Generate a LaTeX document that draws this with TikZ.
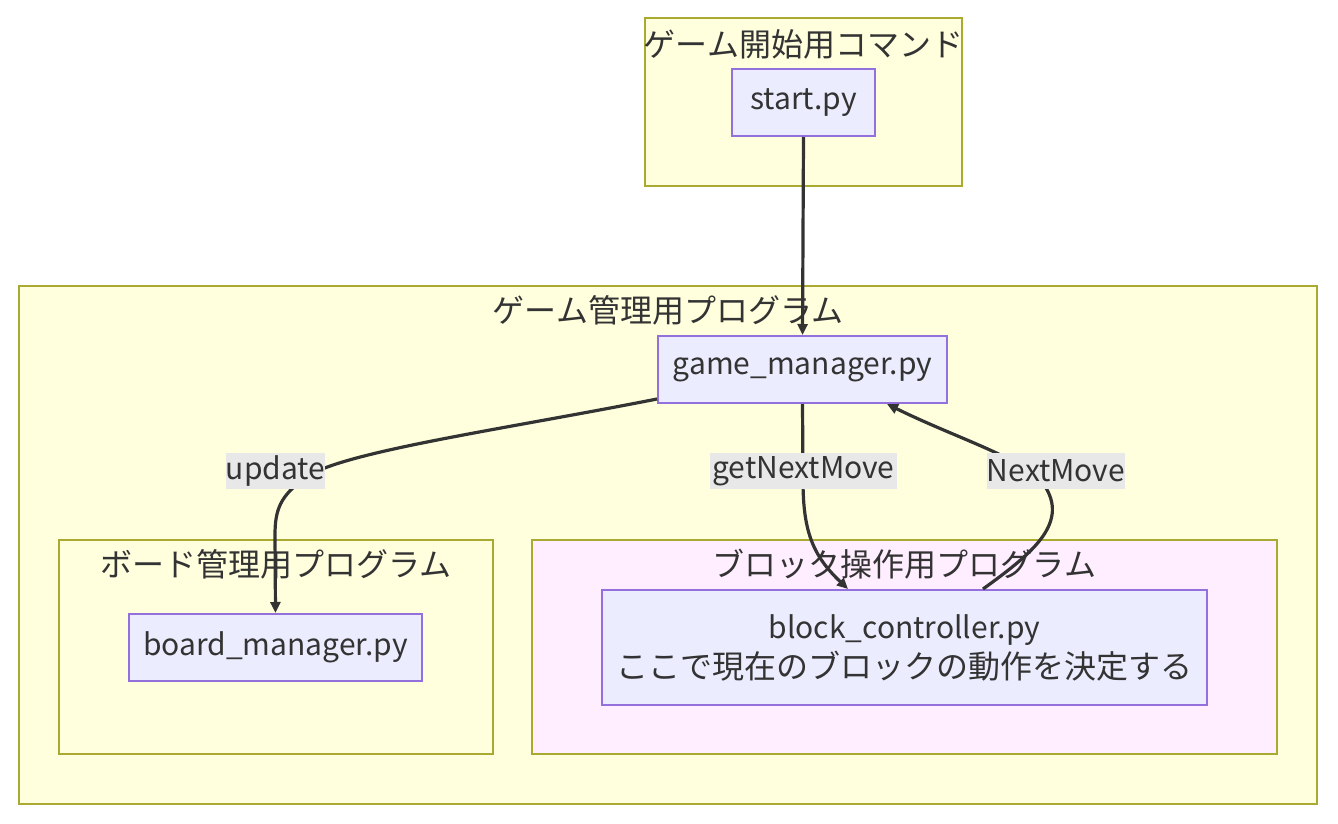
\documentclass[tikz,border=0pt]{standalone}
\usepackage{fontspec}
\setmainfont{Noto Sans CJK JP}
\usetikzlibrary{arrows.meta}
\definecolor{clfill}{HTML}{FFFFDE}
\definecolor{clline}{HTML}{AAAA33}
\definecolor{pinkfill}{HTML}{FFEEFF}
\definecolor{ndfill}{HTML}{ECECFF}
\definecolor{ndline}{HTML}{9370DB}
\definecolor{txt}{HTML}{333333}
\definecolor{lblfill}{HTML}{E8E8E8}
\newcommand{\jpsize}{\fontsize{32}{40}\selectfont}
\newcommand{\ltsize}{\fontsize{30}{40}\selectfont}
\tikzset{
  cluster/.style={draw=clline, fill=clfill, line width=2pt, inner sep=0pt},
  pinkcluster/.style={cluster, fill=pinkfill},
  ctitle/.style={text=txt, font=\jpsize, inner sep=0pt},
  nd/.style={draw=ndline, fill=ndfill, line width=2pt, text=txt, font=\ltsize, align=center, inner sep=0pt},
  edge/.style={draw=txt, line width=3.2pt, -{Triangle[length=11pt,width=10pt]}},
  elabel/.style={fill=lblfill, text=txt, font=\ltsize, inner sep=0pt, minimum height=36pt}
}
\begin{document}
\begin{tikzpicture}[x=1pt,y=-1pt]
\useasboundingbox (0,0) rectangle (1338,824);
% clusters
\node[cluster, minimum width=317pt, minimum height=168pt] (c1) at (803.5,102) {};
\node[ctitle] (c1t) at (803.5,44) {ゲーム開始用コマンド};
\node[cluster, minimum width=1298pt, minimum height=518pt] (c2) at (668,545) {};
\node[ctitle] (c2t) at (668,310) {ゲーム管理用プログラム};
\node[cluster, minimum width=434pt, minimum height=214pt] (c3) at (276,647) {};
\node[ctitle] (c3t) at (276,564) {ボード管理用プログラム};
\node[pinkcluster, minimum width=745pt, minimum height=214pt] (c4) at (904.5,647) {};
\node[ctitle] (c4t) at (904.5,564) {ブロック操作用プログラム};
% nodes
\node[nd, minimum width=143pt, minimum height=67pt] (st) at (803.5,102.5) {start.py};
\node[nd, minimum width=289pt, minimum height=67pt] (gm) at (802.5,369.5) {game\_manager.py};
\node[nd, minimum width=293pt, minimum height=67pt] (bm) at (275.5,647.5) {board\_manager.py};
\node[nd, minimum width=605pt, minimum height=115pt] (bc) at (904.5,647.5) {block\_controller.py\\{\jpsize ここで現在のブロックの動作を決定する}};
% edges
\draw[edge] (st.south) -- (gm.north);
\draw[edge] ([yshift=5pt]gm.south west) .. controls (500,430) and (340,452) .. (305,478) .. controls (280,496) and (275,510) .. (275,535) -- (bm.north);
\draw[edge] (gm.south) -- (803,480) .. controls (803,530) and (812,555) .. ([xshift=-56.5pt]bc.north);
\draw[edge] ([xshift=78.5pt]bc.north) .. controls (1030,555) and (1068,525) .. (1046,488) .. controls (1030,460) and (960,440) .. ([xshift=-61pt]gm.south east);
% labels
\node[elabel, minimum width=99pt] (l1) at (275.5,471) {update};
\node[elabel, minimum width=187pt] (l2) at (803.5,471) {getNextMove};
\node[elabel, minimum width=138pt] (l3) at (1056,471) {NextMove};
\end{tikzpicture}
\end{document}
